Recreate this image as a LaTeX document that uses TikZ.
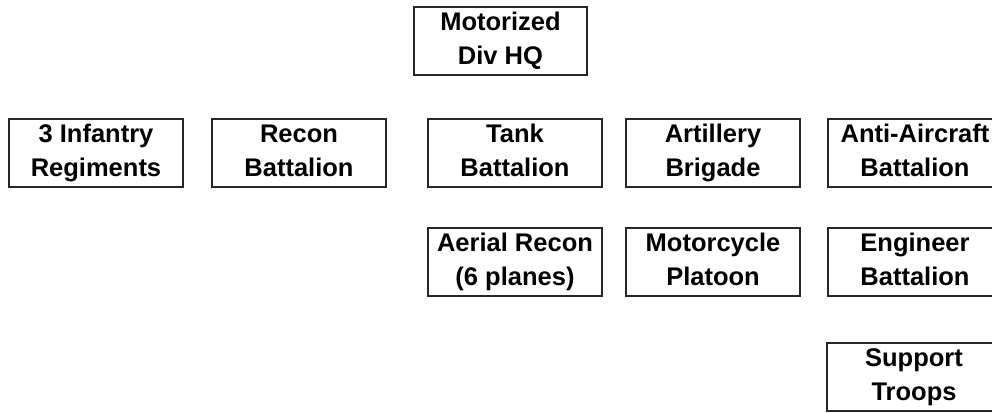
\documentclass[tikz,border=0pt]{standalone}
\usepackage{fontspec}
\setmainfont{Liberation Sans}
\newcommand\twolines[2]{\strut #1\\\strut #2}
\begin{document}
\begin{tikzpicture}[x=1pt,y=-1pt,
  unitbox/.style={draw=black!85, line width=1.5pt, fill=white, minimum width=174pt, minimum height=68pt,
    inner sep=0pt, align=center, font=\fontsize{25.5}{34}\selectfont\bfseries}]
\useasboundingbox (0,0) rectangle (992,412);
\node[unitbox, minimum width=173pt] (hq) at (500.5,41) {\twolines{Motorized}{Div HQ}};
\node[unitbox] (inf) at (96,153) {\twolines{3 Infantry}{Regiments}};
\node[unitbox] (recon) at (299,153) {\twolines{Recon}{Battalion}};
\node[unitbox] (tank) at (515,153) {\twolines{Tank}{Battalion}};
\node[unitbox] (art) at (713,153) {\twolines{Artillery}{Brigade}};
\node[unitbox] (aa) at (915,153) {\twolines{Anti-Aircraft}{Battalion}};
\node[unitbox] (aerial) at (515,262) {\twolines{Aerial Recon}{(6 planes)}};
\node[unitbox] (moto) at (713,262) {\twolines{Motorcycle}{Platoon}};
\node[unitbox] (eng) at (915,262) {\twolines{Engineer}{Battalion}};
\node[unitbox] (sup) at (914,377) {\twolines{Support}{Troops}};
\end{tikzpicture}
\end{document}
